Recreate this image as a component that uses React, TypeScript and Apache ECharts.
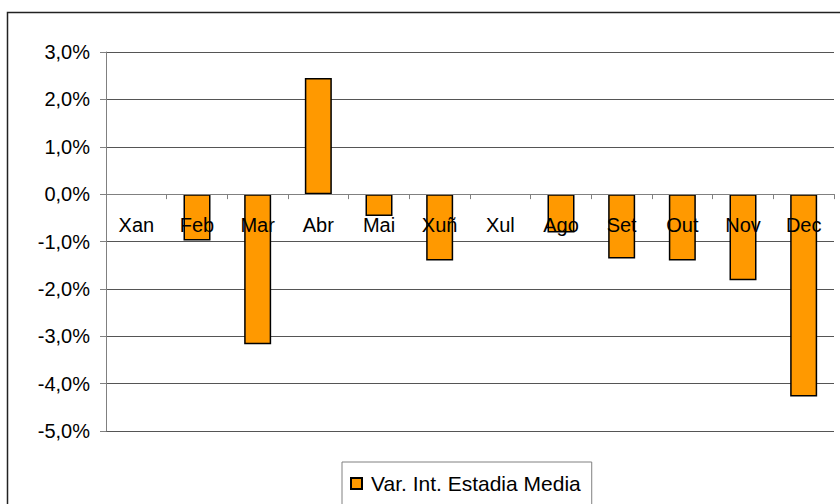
import React, { useEffect, useRef } from "react";
import * as echarts from "echarts";

const months = ["Xan", "Feb", "Mar", "Abr", "Mai", "Xuñ", "Xul", "Ago", "Set", "Out", "Nov", "Dec"];
const variation = [null, -0.98, -3.17, 2.45, -0.46, -1.4, null, -0.81, -1.36, -1.4, -1.82, -4.27];
const seriesName = "Var. Int. Estadia Media";
const yMin = -5;
const yMax = 3;

export default function App() {
  const ref = useRef<HTMLDivElement>(null);
  useEffect(() => {
    document.body.style.margin = "0";
    const chart = echarts.init(ref.current!, null, { renderer: "svg" });
    const gridTop = 52;
    const gridBottom = 73;
    const gridHeight = 504 - gridTop - gridBottom;
    const zeroOffset = (gridHeight * (0 - yMin)) / (yMax - yMin);
    chart.setOption({
      animation: false,
      backgroundColor: "#ffffff",
      textStyle: { fontFamily: "Arial, 'Liberation Sans', sans-serif" },
      graphic: [
        {
          type: "rect",
          shape: { x: 7.5, y: 12.5, width: 850, height: 520 },
          style: { fill: "none", stroke: "#222", lineWidth: 1.5 },
          silent: true,
          z: -1,
        },
      ],
      grid: { left: 106, right: 6, top: gridTop, bottom: gridBottom, containLabel: false },
      xAxis: {
        type: "category",
        data: months,
        z: 10,
        position: "bottom",
        offset: -zeroOffset,
        axisLine: { show: true, onZero: false, lineStyle: { color: "#808080", width: 1 } },
        axisTick: { show: true, length: 5, lineStyle: { color: "#808080" } },
        axisLabel: { color: "#000", fontSize: 20, margin: 21, interval: 0 },
        splitLine: { show: false },
      },
      yAxis: {
        type: "value",
        min: yMin,
        max: yMax,
        interval: 1,
        axisLine: { show: true, lineStyle: { color: "#808080" } },
        axisTick: { show: true, length: 6, lineStyle: { color: "#808080" } },
        axisLabel: {
          color: "#000",
          fontSize: 20,
          margin: 16,
          formatter: (v: number) => v.toFixed(1).replace(".", ",") + "%",
        },
        splitLine: { show: true, lineStyle: { color: "#555", width: 1 } },
      },
      legend: {
        data: [seriesName],
        left: 342,
        top: 462,
        orient: "horizontal",
        icon: "rect",
        itemWidth: 11,
        itemHeight: 11,
        padding: [11, 11, 20, 8],
        borderColor: "#808080",
        borderWidth: 1,
        textStyle: { color: "#000", fontSize: 21, padding: [0, 0, 0, 4] },
      },
      series: [
        {
          name: seriesName,
          type: "bar",
          data: variation,
          barWidth: 27,
          itemStyle: { color: "#FF9900", borderColor: "#000", borderWidth: 1.5 },
          z: 2,
        },
      ],
    });
    return () => chart.dispose();
  }, []);
  return <div ref={ref} style={{ position: "absolute", left: 0, top: 0, width: 840, height: 504 }} />;
}
